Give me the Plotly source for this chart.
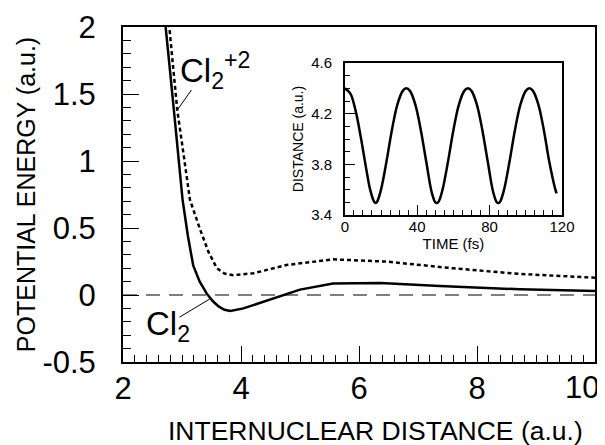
import plotly.graph_objects as go

# ---- main panel data (internuclear distance in a.u., potential energy in a.u.)
cl2_r = [2.70, 2.72, 2.80, 2.88, 2.95, 3.01, 3.10, 3.19, 3.30, 3.42, 3.52, 3.62,
         3.72, 3.82, 4.04, 4.49, 5.00, 5.56, 6.36, 7.37, 8.73, 10.0]
cl2_e = [2.10, 2.00, 1.66, 1.30, 0.98, 0.71, 0.44, 0.22, 0.10, 0.01, -0.045, -0.085,
         -0.11, -0.12, -0.10, -0.035, 0.04, 0.085, 0.09, 0.068, 0.042, 0.03]

cl2p_r = [2.76, 2.785, 2.85, 2.92, 3.02, 3.08, 3.135, 3.31, 3.45, 3.59, 3.72, 3.87,
          4.21, 4.77, 5.56, 6.47, 7.60, 8.73, 10.0]
cl2p_e = [2.08, 2.00, 1.70, 1.38, 1.07, 0.88, 0.71, 0.485, 0.32, 0.20, 0.16, 0.148,
          0.162, 0.224, 0.266, 0.249, 0.199, 0.157, 0.129]

# ---- inset data (time in fs, distance in a.u.)
inset_t = [0, 3, 6, 9, 12, 14, 16, 17, 18, 20, 23, 26, 29, 32, 34, 36, 39, 42, 45,
           48, 50, 51, 52, 54, 57, 60, 63, 66, 68, 70, 73, 76, 79, 82, 84, 85, 86,
           88, 91, 94, 97, 100, 102, 104, 107, 110, 113, 116, 117]
inset_d = [4.40, 4.36, 4.22, 4.00, 3.75, 3.60, 3.51, 3.495, 3.51, 3.60, 3.82, 4.07,
           4.27, 4.38, 4.40, 4.38, 4.27, 4.07, 3.82, 3.58, 3.50, 3.495, 3.51, 3.60,
           3.82, 4.07, 4.27, 4.38, 4.40, 4.38, 4.27, 4.07, 3.82, 3.58, 3.50, 3.495,
           3.51, 3.60, 3.82, 4.07, 4.27, 4.38, 4.40, 4.38, 4.27, 4.07, 3.82, 3.62, 3.57]

# ---- ticks and tick labels
x_major = [2, 3, 4, 5, 6, 7, 8, 9, 10]
x_labels = [2, 4, 6, 8]
x_last_label = 10
y_major = [-0.5, 0, 0.5, 1, 1.5, 2]
y_ticktext = ["-0.5", "0", "0.5", "1", "1.5", "2"]
ix_major = [0, 20, 40, 60, 80, 100, 120]
ix_labels = [0, 40, 80, 120]
iy_major = [3.4, 3.6, 3.8, 4.0, 4.2, 4.4, 4.6]
iy_labels = [3.4, 3.8, 4.2, 4.6]
iy_ticktext = ["3.4", "3.8", "4.2", "4.6"]

# ---- label anchors
lab_cl2p_text = (2.93, 1.485)
lab_cl2p_tip = (2.92, 1.38)
lab_cl2p_tail = (3.16, 1.53)
lab_cl2_text = (2.35, -0.235)
lab_cl2_tip = (3.47, -0.03)
lab_cl2_tail = (2.96, -0.165)

FONT = "Liberation Sans, Arial, Helvetica, sans-serif"

fig = go.Figure()

fig.add_trace(go.Scatter(x=[2, 10], y=[0, 0], mode="lines",
                         line=dict(color="#555555", width=1.5, dash="14px,9px"),
                         hoverinfo="skip", showlegend=False))
fig.add_trace(go.Scatter(x=cl2p_r, y=cl2p_e, mode="lines", name="Cl2+2",
                         line=dict(color="black", width=2.5, dash="4px,3px"),
                         showlegend=False))
fig.add_trace(go.Scatter(x=cl2_r, y=cl2_e, mode="lines", name="Cl2",
                         line=dict(color="black", width=2.5), showlegend=False))
fig.add_trace(go.Scatter(x=inset_t, y=inset_d, mode="lines", xaxis="x2", yaxis="y2",
                         line=dict(color="black", width=2.5, shape="spline"),
                         showlegend=False))


def ax(**kw):
    base = dict(showgrid=False, zeroline=False, showline=True, linecolor="black",
                linewidth=2, mirror=True, ticks="inside", tickcolor="black",
                tickwidth=1, automargin=False)
    base.update(kw)
    return base


def minor(d, ln):
    return dict(dtick=d, ticklen=ln, ticks="inside", tickcolor="black", showgrid=False)


def tick_only(over, anchor, side, rng, vals, ln, lw):
    return ax(overlaying=over, anchor=anchor, side=side, range=rng, tickvals=vals,
              showticklabels=False, ticklen=ln, showline=False, mirror=False, linewidth=lw)


TICK = 31
fig.update_layout(
    width=597, height=437,
    margin=dict(l=115, r=10, t=19, b=83),
    paper_bgcolor="white", plot_bgcolor="white",
    font=dict(family=FONT, color="black"),
    xaxis=ax(range=[2, 10], tickvals=x_labels, ticktext=[str(v) for v in x_labels],
             ticklen=16, tickfont=dict(size=TICK), ticklabelstandoff=-2,
             minor=minor(0.2, 7)),
    yaxis=ax(range=[-0.5, 2], tickvals=y_major, ticktext=y_ticktext,
             ticklen=16, tickfont=dict(size=TICK), ticklabelstandoff=19,
             minor=minor(0.1, 8),
             title=dict(text="POTENTIAL ENERGY (a.u.)", font=dict(size=25), standoff=0)),
    xaxis3=ax(overlaying="x", anchor="y", side="top", range=[2, 10], showline=False,
              tickvals=x_major, showticklabels=False, ticklen=16, minor=minor(0.2, 7)),
    yaxis3=ax(overlaying="y", anchor="x", side="right", range=[-0.5, 2], showline=False,
              tickvals=y_major, showticklabels=False, ticklen=16, minor=minor(0.1, 8)),
    xaxis5=tick_only("x", "y", "bottom", [2, 10], x_major, 16, 2),
    xaxis2=ax(domain=[0.470, 0.930], anchor="y2", range=[0, 120], linewidth=1.5,
              tickvals=ix_labels, ticktext=[str(v) for v in ix_labels], ticklen=10,
              tickfont=dict(size=15), ticklabelstandoff=-3,
              minor=minor(5, 5),
              title=dict(text="TIME (fs)", font=dict(size=15), standoff=2)),
    yaxis2=ax(domain=[0.4388, 0.8925], anchor="x2", range=[3.4, 4.6], linewidth=1.5,
              tickvals=iy_labels, ticktext=iy_ticktext, ticklen=10,
              tickfont=dict(size=15), ticklabelstandoff=8,
              minor=minor(0.1, 5),
              title=dict(text="DISTANCE (a.u.)", font=dict(size=14), standoff=4)),
    xaxis4=ax(overlaying="x2", anchor="y2", side="top", range=[0, 120], showline=False,
              tickvals=ix_major, showticklabels=False, ticklen=10, minor=minor(5, 5)),
    yaxis4=ax(overlaying="y2", anchor="x2", side="right", range=[3.4, 4.6], showline=False,
              tickvals=iy_major, showticklabels=False, ticklen=10, minor=minor(0.1, 5)),
    xaxis6=tick_only("x2", "y2", "bottom", [0, 120], ix_major, 10, 1.5),
    yaxis6=tick_only("y2", "x2", "left", [3.4, 4.6], iy_major, 10, 1.5),
)

# x-axis title (placed as in the reference, slightly right of centre)
fig.add_annotation(x=0.534, y=0, xref="paper", yref="paper", yshift=-69,
                   text="INTERNUCLEAR DISTANCE (a.u.)", showarrow=False,
                   xanchor="center", yanchor="middle",
                   font=dict(family=FONT, size=26.5, color="black"))

# last x tick label drawn as text so it stays inside the page, like the reference
fig.add_annotation(x=x_last_label, y=0, xref="x", yref="paper", text=str(x_last_label),
                   showarrow=False, xanchor="right", yanchor="top", xshift=6, yshift=-6,
                   font=dict(family=FONT, size=TICK, color="black"))

ann_font = dict(family=FONT, size=33, color="black")
fig.add_annotation(x=lab_cl2p_text[0], y=lab_cl2p_text[1], xref="x", yref="y",
                   text="Cl<sub>2</sub><sup>+2</sup>", showarrow=False,
                   xanchor="left", yanchor="bottom", font=ann_font)
fig.add_annotation(x=lab_cl2_text[0], y=lab_cl2_text[1], xref="x", yref="y",
                   text="Cl<sub>2</sub>", showarrow=False,
                   xanchor="left", yanchor="middle", font=ann_font)

# leader lines from labels to curves
for tip, tail in [(lab_cl2p_tip, lab_cl2p_tail), (lab_cl2_tip, lab_cl2_tail)]:
    fig.add_shape(type="line", xref="x", yref="y", x0=tail[0], y0=tail[1],
                  x1=tip[0], y1=tip[1], line=dict(color="black", width=1))

fig.write_html("out.html")
